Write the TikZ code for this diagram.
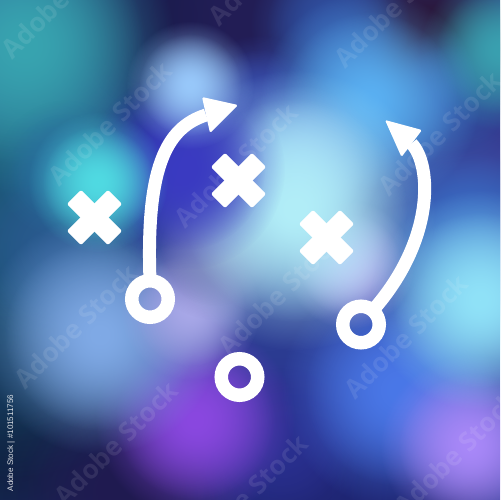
\documentclass[tikz,border=0pt]{standalone}
\usepackage{fontspec}
\newfontfamily\wmfont{Open Sans}
\newfontfamily\idfont{Liberation Sans}
\usetikzlibrary{fadings}
\tikzfading[name=blobfade, inner color=transparent!0, outer color=transparent!100]
\definecolor{bgbase}{HTML}{2C3C92}
\definecolor{cTeal}{HTML}{38A4B0}
\definecolor{cTealDk}{HTML}{1C5878}
\definecolor{cNavy}{HTML}{1C3570}
\definecolor{cNavyDk}{HTML}{1A1C4E}
\definecolor{cPurpDk}{HTML}{231D55}
\definecolor{cMaroon}{HTML}{2A1535}
\definecolor{cTealR}{HTML}{3AA0B0}
\definecolor{cSky}{HTML}{98C8FA}
\definecolor{cLtBlue}{HTML}{5AB0F2}
\definecolor{cAqua}{HTML}{50DAE2}
\definecolor{cViolet}{HTML}{3A3AC2}
\definecolor{cPeri}{HTML}{3A50B0}
\definecolor{cIce}{HTML}{B2EEF8}
\definecolor{cGrayV}{HTML}{7272B2}
\definecolor{cLav}{HTML}{BCA8F0}
\definecolor{cMidBlue}{HTML}{3A70C8}
\definecolor{cPurpR}{HTML}{3A3A90}
\definecolor{cCyanR}{HTML}{90E2F8}
\definecolor{cBlueL}{HTML}{80AAE6}
\definecolor{cLav2}{HTML}{A8A8E8}
\definecolor{cPurple}{HTML}{8A48E0}
\definecolor{cBlueM}{HTML}{2A3090}
\definecolor{cDkBlue}{HTML}{1E2470}
\definecolor{cBlueB}{HTML}{4A78E8}
\definecolor{cLilac}{HTML}{A888F8}
\definecolor{cDkBot}{HTML}{201A50}
\definecolor{cDkLeft}{HTML}{0F2240}
\definecolor{cLeftBlue}{HTML}{1A4568}
\definecolor{cMidL}{HTML}{2A5A90}
\definecolor{cSkyMid}{HTML}{80B0F0}
\definecolor{cRightB}{HTML}{3050A0}
\definecolor{cTealL}{HTML}{2A70A0}
\tikzset{
  ring/.style={circle, draw=white, line width=0.27cm, minimum size=0.73cm, inner sep=0pt, outer sep=0pt},
  route/.style={draw=white, line width=0.26cm},
  headtip/.style={fill=white, rounded corners=0.03cm},
  armbar/.style={fill=white, rounded corners=0.04cm},
  watermark/.style={white, opacity=0.09, font=\wmfont\bfseries\fontsize{15}{15}\selectfont, rotate=45},
  stockid/.style={white, opacity=0.85, font=\idfont\fontsize{4.6}{5}\selectfont, rotate=90}
}
\newcommand\xmark[1]{%
  \begin{scope}[shift={(#1)}, rotate=45]
    \fill[armbar] (-29,-10) rectangle (29,10);
    \fill[armbar] (-10,-29) rectangle (10,29);
  \end{scope}}
\begin{document}
\begin{tikzpicture}[x=0.02cm, y=-0.02cm]
\useasboundingbox (0,0) rectangle (500,500);
\clip (0,0) rectangle (500,500);
\fill[bgbase] (0,0) rectangle (500,500);
% background blobs: x/y/radius/colour
\foreach \bx/\by/\br/\bc in {
  % dark layer
  10/430/100/cDkLeft, 130/495/70/cDkBot, 300/490/60/cDkBlue, 420/495/50/cDkBlue,
  10/300/90/cLeftBlue, 10/180/90/cTealDk,
  100/15/65/cNavy, 175/15/65/cNavyDk, 260/15/60/cPurpDk,
  430/40/55/cMaroon, 475/170/50/cPurpR,
  % mid layer
  60/250/50/cMidL, 470/240/55/cMidBlue, 450/100/35/cRightB, 330/25/40/cRightB,
  260/105/35/cPeri, 280/440/45/cBlueM, 25/45/75/cTeal, 500/50/40/cTealR,
  65/170/35/cTealL,
  % light layer
  370/100/55/cLtBlue, 300/165/40/cSkyMid, 400/390/60/cBlueB,
  195/420/50/cPurple, 470/445/45/cLilac, 100/335/60/cBlueL,
  190/310/35/cLav2, 215/250/35/cGrayV, 350/265/32/cLav,
  295/210/70/cIce, 480/300/55/cCyanR,
  % accents
  185/170/50/cViolet, 98/182/35/cAqua, 190/85/32/cSky}
  {\fill[\bc, path fading=blobfade] (\bx,\by) circle ({2*\br});
   \fill[\bc, path fading=blobfade] (\bx,\by) circle ({1.6*\br});}
% watermarks
\foreach \wx/\wy in {63/-4, 110/123, 236/165, 270/-37, 396/5, 440/133,
  76/326, 280/293, 406/336, 116/443, 246/496, 456/453}
  {\node[watermark] at (\wx,\wy) {Adobe Stock};}
\node[stockid] (id) at (11,443) {Adobe Stock | \#101511756};
% crosses
\xmark{94.5,217.5}
\xmark{238.5,180.5}
\xmark{326.5,237.5}
% circles
\node[ring] (o1) at (150,299) {};
\node[ring] (o2) at (239.5,377) {};
\node[ring] (o3) at (361,324.5) {};
% routes
\coordinate (b1) at (206,115);
\coordinate (b2) at (411.5,143.5);
\draw[route] (o1.90) .. controls (146,170) and (165,128) .. (b1);
\draw[route] (o3.50) .. controls (435,240) and (432,165) .. (b2);
\fill[headtip] (238,105) -- (202,97) -- (210,133) -- cycle;
\fill[headtip] (385,120) -- (422,130) -- (401.5,157) -- cycle;
\end{tikzpicture}
\end{document}
